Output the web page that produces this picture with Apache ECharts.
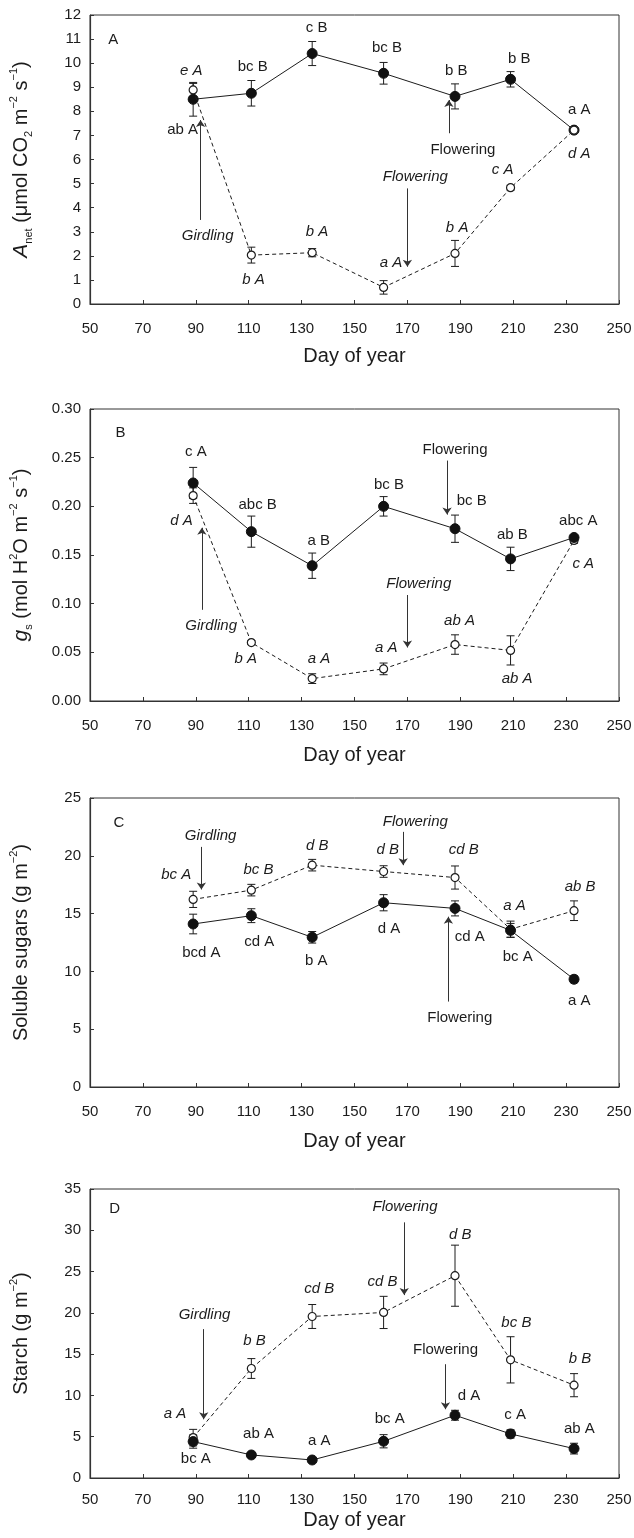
<!DOCTYPE html>
<html>
<head>
<meta charset="utf-8">
<title>Girdling - gas exchange and carbohydrates</title>
<script src="https://cdn.jsdelivr.net/npm/echarts/dist/echarts.min.js"></script>
<style>
  html, body { margin: 0; padding: 0; background: #fff; }
  #chart { width: 634px; height: 1538px; }
</style>
</head>
<body>
<div id="chart"></div>
<script>
// sampling days (day of year)
var days = [89, 111, 134, 161, 188, 209, 233];

// A: net assimilation
var anetCtrl = [8.5, 8.75, 10.4, 9.58, 8.62, 9.33, 7.22];
var anetCtrlSe = [0.7, 0.53, 0.5, 0.45, 0.52, 0.32, 0.05];
var anetGird = [8.89, 2.03, 2.13, 0.69, 2.1, 4.83, 7.22];
var anetGirdSe = [0.27, 0.33, 0.17, 0.28, 0.54, 0.1, 0.05];

// B: stomatal conductance
var gsCtrl = [0.224, 0.174, 0.139, 0.200, 0.177, 0.146, 0.168];
var gsCtrlSe = [0.016, 0.016, 0.013, 0.010, 0.014, 0.012, 0.002];
var gsGird = [0.211, 0.060, 0.023, 0.033, 0.058, 0.052, 0.165];
var gsGirdSe = [0.008, 0.002, 0.005, 0.006, 0.010, 0.015, 0.003];

// C: soluble sugars
var sugCtrl = [14.1, 14.82, 12.95, 15.94, 15.45, 13.55, 9.32];
var sugCtrlSe = [0.85, 0.6, 0.5, 0.7, 0.65, 0.6, 0.3];
var sugGird = [16.23, 17.03, 19.19, 18.64, 18.12, 13.65, 15.25];
var sugGirdSe = [0.7, 0.5, 0.5, 0.5, 1.0, 0.7, 0.85];

// D: starch
var staCtrl = [4.41, 2.79, 2.18, 4.45, 7.6, 5.34, 3.56];
var staCtrlSe = [0.8, 0.3, 0.2, 0.8, 0.6, 0.5, 0.65];
var staGird = [4.89, 13.26, 19.56, 20.05, 24.5, 14.31, 11.24];
var staGirdSe = [1.0, 1.2, 1.45, 1.95, 3.7, 2.8, 1.4];

// x axis ticks
var dayMin = 50, dayMax = 250, dayStep = 20;

// text notes [day, value, text] - upright (control) and italic (girdled)
var anetCtrlTags = [[58.8, 10.96, 'A'], [85, 7.22, 'ab A'], [111.5, 9.85, 'bc B'], [135.7, 11.45, 'c B'], [162.3, 10.64, 'bc B'], [188.5, 9.67, 'b B'], [212.3, 10.16, 'b B'], [235, 8.06, 'a A'], [191, 6.42, 'Flowering']];
var anetGirdTags = [[88.3, 9.67, 'e A'], [111.8, 1.02, 'b A'], [135.8, 3.0, 'b A'], [163.8, 1.69, 'a A'], [188.8, 3.17, 'b A'], [206, 5.59, 'c A'], [235, 6.23, 'd A'], [94.5, 2.84, 'Girdling'], [173, 5.26, 'Flowering']];
var anetArrows = [[91.8, 3.49, 7.64], [170, 4.8, 1.55], [185.7, 7.09, 8.47]];

var gsCtrlTags = [[61.5, 0.2757, 'B'], [90, 0.2555, 'c A'], [113.4, 0.2016, 'abc B'], [136.5, 0.1645, 'a B'], [163, 0.2225, 'bc B'], [194.3, 0.2056, 'bc B'], [209.7, 0.1702, 'ab B'], [234.6, 0.1847, 'abc A'], [188, 0.2582, 'Flowering']];
var gsGirdTags = [[84.6, 0.1854, 'd A'], [108.9, 0.0431, 'b A'], [136.6, 0.0431, 'a A'], [162, 0.0549, 'a A'], [189.7, 0.0819, 'ab A'], [211.5, 0.0229, 'ab A'], [236.5, 0.1409, 'c A'], [95.8, 0.0768, 'Girdling'], [174.3, 0.1207, 'Flowering']];
var gsArrows = [[92.3, 0.0937, 0.178], [170, 0.1089, 0.055], [185, 0.247, 0.1915]];

var sugCtrlTags = [[60.9, 22.84, 'C'], [92.1, 11.57, 'bcd A'], [114, 12.57, 'cd A'], [135.5, 10.93, 'b A'], [163, 13.67, 'd A'], [193.6, 13.0, 'cd A'], [211.7, 11.22, 'bc A'], [235, 7.48, 'a A'], [189.8, 5.96, 'Flowering']];
var sugGirdTags = [[82.6, 18.33, 'bc A'], [113.7, 18.76, 'bc B'], [135.9, 20.83, 'd B'], [162.6, 20.48, 'd B'], [191.3, 20.48, 'cd B'], [210.5, 15.65, 'a A'], [235.3, 17.32, 'ab B'], [95.6, 21.69, 'Girdling'], [173, 22.93, 'Flowering']];
var sugArrows = [[92.1, 20.77, 17.09], [168.4, 22.07, 19.19], [185.5, 7.39, 14.73]];

var staCtrlTags = [[59.3, 32.6, 'D'], [90, 2.34, 'bc A'], [113.7, 5.3, 'ab A'], [136.7, 4.49, 'a A'], [163.3, 7.11, 'bc A'], [193.3, 9.94, 'd A'], [210.7, 7.6, 'c A'], [235, 5.98, 'ab A'], [184.4, 15.52, 'Flowering']];
var staGirdTags = [[82.1, 7.72, 'a A'], [112.2, 16.57, 'b B'], [136.7, 22.96, 'cd B'], [160.6, 23.77, 'cd B'], [190, 29.5, 'd B'], [211.2, 18.84, 'bc B'], [235.3, 14.47, 'b B'], [93.3, 19.76, 'Girdling'], [169.1, 32.8, 'Flowering']];
var staArrows = [[93, 18.03, 7.11], [168.8, 30.96, 22.15], [184.4, 13.78, 8.33]];

var FONT = '"Liberation Sans", Arial, sans-serif';
var INK = '#1c1c1c';

var chart = echarts.init(document.getElementById('chart'));

// panel layout; girdOnTop: open circles drawn over filled ones (panel A, day 233)
var panels = [
  {top: 15, height: 289, yMax: 12, yStep: 1, dec: 0, ctrl: anetCtrl, ctrlSe: anetCtrlSe, gird: anetGird, girdSe: anetGirdSe,
   cTags: anetCtrlTags, gTags: anetGirdTags, arrows: anetArrows, girdOnTop: true,
   name: '{it|A}{sub|net} (\u03bcmol CO{sub|2} m{sup|\u22122} s{sup|\u22121})', labGap: 17, nameGap: 42},
  {top: 409, height: 292, yMax: 0.30, yStep: 0.05, dec: 2, ctrl: gsCtrl, ctrlSe: gsCtrlSe, gird: gsGird, girdSe: gsGirdSe,
   cTags: gsCtrlTags, gTags: gsGirdTags, arrows: gsArrows, girdOnTop: false,
   name: '{it|g}{sub|s} (mol H{sup|2}O m{sup|\u22122} s{sup|\u22121})', labGap: 17, nameGap: 44},
  {top: 798, height: 289, yMax: 25, yStep: 5, dec: 0, ctrl: sugCtrl, ctrlSe: sugCtrlSe, gird: sugGird, girdSe: sugGirdSe,
   cTags: sugCtrlTags, gTags: sugGirdTags, arrows: sugArrows, girdOnTop: false,
   name: 'Soluble sugars (g m{sup|\u22122})', labGap: 17, nameGap: 44},
  {top: 1189, height: 289, yMax: 35, yStep: 5, dec: 0, ctrl: staCtrl, ctrlSe: staCtrlSe, gird: staGird, girdSe: staGirdSe,
   cTags: staCtrlTags, gTags: staGirdTags, arrows: staArrows, girdOnTop: false,
   name: 'Starch (g m{sup|\u22122})', labGap: 14, nameGap: 32}
];

var grids = [], xAxes = [], yAxes = [], series = [];

function pairs(vals) {
  return days.map(function (d, i) { return [d, vals[i]]; });
}
function bars(vals, se) {
  return days.map(function (d, i) { return [d, vals[i] - se[i], vals[i] + se[i]]; });
}

function errSeries(k, data) {
  return {
    type: 'custom', xAxisIndex: k, yAxisIndex: k, z: 2, silent: true,
    data: data, encode: {x: 0, y: [1, 2]},
    renderItem: function (params, api) {
      var lo = api.coord([api.value(0), api.value(1)]);
      var hi = api.coord([api.value(0), api.value(2)]);
      var w = 4;
      var st = {stroke: INK, lineWidth: 1};
      return {
        type: 'group',
        children: [
          {type: 'line', shape: {x1: lo[0], y1: lo[1], x2: hi[0], y2: hi[1]}, style: st},
          {type: 'line', shape: {x1: lo[0] - w, y1: lo[1], x2: lo[0] + w, y2: lo[1]}, style: st},
          {type: 'line', shape: {x1: hi[0] - w, y1: hi[1], x2: hi[0] + w, y2: hi[1]}, style: st}
        ]
      };
    }
  };
}

function tagSeries(k, tags, italic) {
  return {
    type: 'custom', xAxisIndex: k, yAxisIndex: k, z: 6, silent: true,
    data: tags.map(function (t) { return [t[0], t[1]]; }),
    renderItem: function (params, api) {
      var p = api.coord([api.value(0), api.value(1)]);
      return {
        type: 'text', x: p[0], y: p[1],
        style: {
          text: tags[params.dataIndex][2],
          fill: INK,
          font: (italic ? 'italic ' : '') + '15px ' + FONT,
          align: 'center', verticalAlign: 'middle'
        }
      };
    }
  };
}

panels.forEach(function (p, k) {
  grids.push({left: 90, width: 529, top: p.top, height: p.height, show: true,
    borderColor: '#333', borderWidth: 1, backgroundColor: 'transparent', containLabel: false, outerBoundsMode: 'none'});

  xAxes.push({
    gridIndex: k, type: 'value', min: dayMin, max: dayMax, interval: dayStep,
    name: 'Day of year', nameLocation: 'middle', nameGap: p.nameGap,
    nameTextStyle: {fontFamily: FONT, fontSize: 20, color: INK},
    axisLine: {show: true, onZero: false, lineStyle: {color: '#333', width: 1.2}},
    axisTick: {show: true, inside: true, length: 4, lineStyle: {color: '#333'}},
    axisLabel: {fontFamily: FONT, fontSize: 15, color: INK, margin: p.labGap},
    splitLine: {show: false}
  });

  yAxes.push({
    gridIndex: k, type: 'value', min: 0, max: p.yMax, interval: p.yStep,
    name: p.name, nameLocation: 'middle', nameGap: 56,
    nameTextStyle: {
      fontFamily: FONT, fontSize: 20, color: INK, lineHeight: 26,
      rich: {
        it: {fontFamily: FONT, fontSize: 21, fontStyle: 'italic', color: INK, lineHeight: 26},
        sub: {fontFamily: FONT, fontSize: 11, color: INK, verticalAlign: 'bottom', lineHeight: 26},
        sup: {fontFamily: FONT, fontSize: 11, color: INK, verticalAlign: 'top', lineHeight: 12}
      }
    },
    axisLine: {show: true, onZero: false, lineStyle: {color: '#333', width: 1.2}},
    axisTick: {show: true, inside: true, length: 4, lineStyle: {color: '#333'}},
    axisLabel: {fontFamily: FONT, fontSize: 15, color: INK, margin: 9,
      formatter: function (v) { return v.toFixed(p.dec); }},
    splitLine: {show: false}
  });

  // error bars
  series.push(errSeries(k, bars(p.gird, p.girdSe)));
  series.push(errSeries(k, bars(p.ctrl, p.ctrlSe)));

  // girdled trees: open circles, dashed line
  series.push({
    type: 'line', xAxisIndex: k, yAxisIndex: k, z: p.girdOnTop ? 4 : 3, data: pairs(p.gird),
    symbol: 'circle', symbolSize: 8,
    lineStyle: {color: INK, width: 1, type: [4, 3]},
    itemStyle: {color: '#fff', borderColor: INK, borderWidth: 1.2}
  });
  // control trees: filled circles, solid line
  series.push({
    type: 'line', xAxisIndex: k, yAxisIndex: k, z: p.girdOnTop ? 3 : 4, data: pairs(p.ctrl),
    symbol: 'circle', symbolSize: 10,
    lineStyle: {color: INK, width: 1},
    itemStyle: {color: '#111', borderColor: '#111', borderWidth: 1}
  });

  // arrows
  series.push({
    type: 'lines', coordinateSystem: 'cartesian2d', xAxisIndex: k, yAxisIndex: k, z: 5,
    symbol: ['none', 'arrow'], symbolSize: 7,
    lineStyle: {color: '#333', width: 1, opacity: 1},
    data: p.arrows.map(function (a) { return {coords: [[a[0], a[1]], [a[0], a[2]]]}; })
  });

  series.push(tagSeries(k, p.cTags, false));
  series.push(tagSeries(k, p.gTags, true));
});

chart.setOption({
  animation: false,
  backgroundColor: '#fff',
  grid: grids,
  xAxis: xAxes,
  yAxis: yAxes,
  series: series
});
</script>
</body>
</html>
